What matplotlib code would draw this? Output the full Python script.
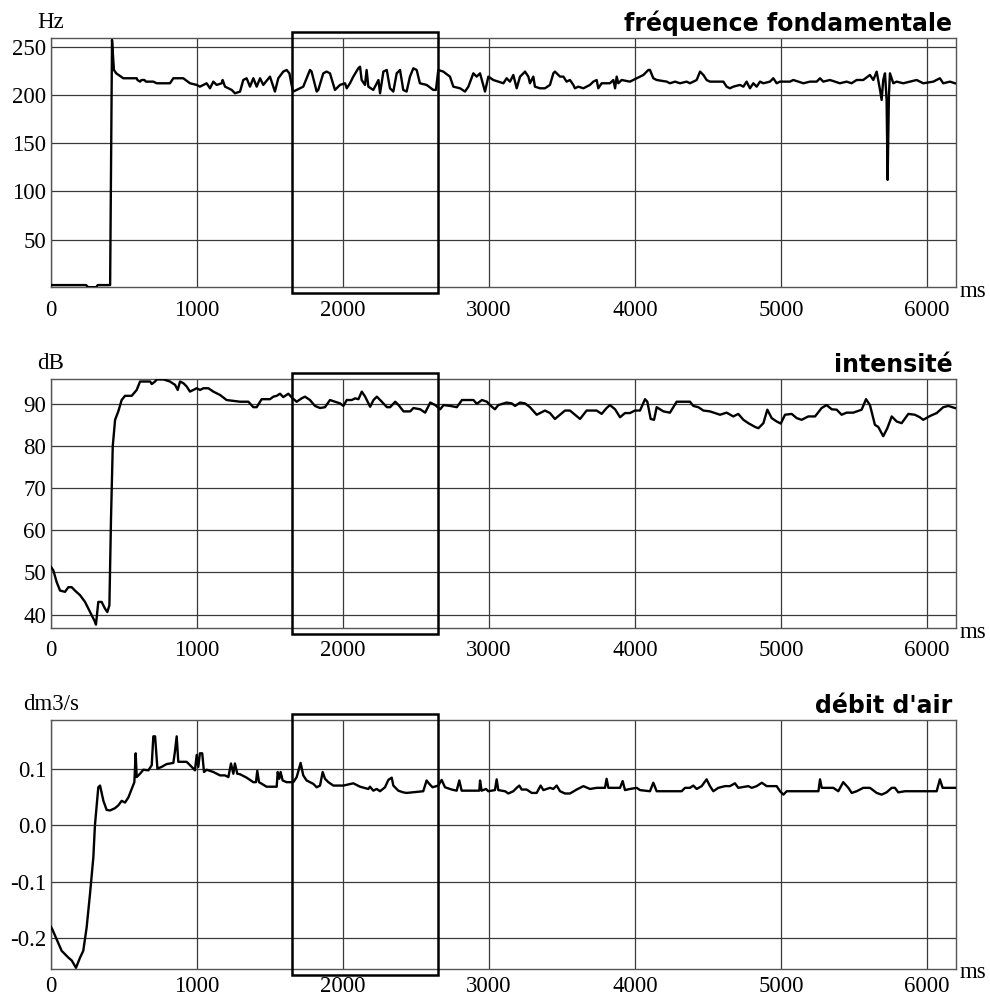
import matplotlib
matplotlib.use("Agg")
import matplotlib.pyplot as plt
import matplotlib.transforms as mtransforms
from matplotlib.patches import Rectangle

plt.rcParams['font.family'] = ['Liberation Serif', 'DejaVu Serif']

# fréquence fondamentale (Hz)
t_f0 = [0, 240, 255, 310, 320, 405, 418, 431, 447, 495, 587, 592, 610, 620, 640, 650, 701, 724, 815, 838,
        906, 952, 998, 1020, 1066, 1089, 1112, 1135, 1169, 1176, 1192, 1238, 1260, 1295, 1317, 1340, 1363,
        1386, 1409, 1432, 1454, 1500, 1523, 1534, 1557, 1591, 1614, 1633, 1655, 1660, 1706, 1728, 1774,
        1785, 1820, 1831, 1865, 1888, 1911, 1945, 1980, 2014, 2026, 2048, 2071, 2105, 2117, 2128, 2151,
        2162, 2174, 2208, 2243, 2254, 2277, 2300, 2322, 2345, 2368, 2391, 2413, 2436, 2459, 2482, 2505,
        2527, 2573, 2619, 2637, 2653, 2687, 2733, 2756, 2802, 2836, 2859, 2893, 2916, 2939, 2973, 2996,
        3030, 3065, 3099, 3121, 3144, 3167, 3190, 3213, 3236, 3247, 3270, 3281, 3304, 3315, 3350, 3384,
        3418, 3441, 3452, 3487, 3510, 3532, 3555, 3578, 3589, 3612, 3647, 3692, 3715, 3738, 3749, 3772,
        3829, 3852, 3864, 3875, 3886, 3909, 3966, 3989, 4012, 4058, 4092, 4103, 4126, 4149, 4218, 4240,
        4275, 4309, 4354, 4377, 4423, 4446, 4469, 4491, 4514, 4606, 4628, 4651, 4674, 4720, 4743, 4765,
        4788, 4811, 4834, 4857, 4880, 4925, 4948, 4971, 4994, 5062, 5085, 5154, 5199, 5245, 5268, 5290,
        5336, 5404, 5450, 5484, 5519, 5564, 5610, 5633, 5656, 5679, 5690, 5701, 5713, 5724, 5731, 5740,
        5747, 5770, 5793, 5838, 5884, 5930, 5975, 6044, 6089, 6112, 6158, 6192]
f0 = [3, 3, 0.8, 0.8, 3, 3, 257, 225.9, 222.4, 217.3, 217.3, 215.5, 213.8, 215.5, 215.5, 213.8, 213.8,
      212.1, 212.1, 217.3, 217.3, 212.1, 210.4, 208.6, 212.1, 206.9, 213.8, 210.4, 212.1, 215.5, 208.6,
      205.2, 201.7, 203.5, 215.5, 217.3, 208.6, 217.3, 208.6, 217.3, 210.4, 219.0, 208.6, 203.5, 217.3,
      224.2, 225.9, 222.4, 205.2, 203.5, 206.9, 208.6, 225.9, 224.2, 203.5, 205.2, 222.4, 224.2, 222.4,
      205.2, 210.4, 212.1, 206.9, 212.1, 219.0, 227.6, 229.3, 215.5, 210.4, 225.9, 208.6, 205.2, 215.5,
      201.7, 224.2, 225.9, 206.9, 203.5, 222.4, 225.9, 205.2, 203.5, 219.0, 227.6, 225.9, 212.1, 210.4,
      205.2, 205.2, 225.9, 224.2, 219.0, 208.6, 206.9, 203.5, 208.6, 222.4, 219.0, 222.4, 203.5, 219.0,
      215.5, 213.8, 212.1, 217.3, 213.8, 220.7, 206.9, 219.0, 222.4, 224.2, 219.0, 212.1, 219.0, 208.6,
      206.9, 206.9, 210.4, 222.4, 224.2, 219.0, 219.0, 213.8, 215.5, 210.4, 206.9, 208.6, 206.9, 210.4,
      213.8, 215.5, 206.9, 212.1, 212.1, 215.5, 206.9, 219.0, 212.1, 215.5, 213.8, 215.5, 217.3, 220.7,
      225.9, 225.9, 217.3, 215.5, 213.8, 212.1, 213.8, 212.1, 213.8, 212.1, 215.5, 224.2, 220.7, 215.5,
      213.8, 213.8, 208.6, 206.9, 208.6, 210.4, 208.6, 213.8, 206.9, 212.1, 208.6, 213.8, 212.1, 213.8,
      217.3, 212.1, 213.8, 213.8, 215.5, 212.1, 213.8, 213.8, 217.3, 213.8, 215.5, 212.1, 213.8, 212.1,
      215.5, 215.5, 220.7, 215.5, 224.2, 205.2, 194.8, 215.5, 222.4, 195.0, 112.0, 200.0, 222.4, 212.1,
      213.8, 212.1, 213.8, 215.5, 212.1, 213.8, 217.3, 212.1, 213.8, 212.1]

# intensité (dB)
t_db = [0, 16, 39, 62, 96, 119, 142, 164, 199, 233, 256, 279, 301, 308, 324, 347, 370, 386, 400, 411, 423,
        439, 461, 484, 507, 553, 587, 610, 679, 690, 713, 724, 770, 815, 850, 868, 884, 907, 930, 952, 975,
        998, 1021, 1044, 1078, 1112, 1158, 1203, 1249, 1295, 1352, 1386, 1409, 1443, 1500, 1523, 1546,
        1569, 1591, 1626, 1655, 1683, 1717, 1740, 1774, 1808, 1843, 1877, 1911, 1946, 1980, 2003, 2026,
        2060, 2083, 2106, 2129, 2152, 2186, 2209, 2232, 2255, 2301, 2323, 2358, 2381, 2415, 2460, 2483,
        2529, 2563, 2598, 2632, 2666, 2689, 2735, 2780, 2815, 2894, 2917, 2952, 2986, 3007, 3041, 3064,
        3121, 3156, 3179, 3213, 3247, 3281, 3327, 3350, 3384, 3418, 3452, 3487, 3521, 3555, 3589, 3624,
        3669, 3738, 3772, 3806, 3829, 3864, 3898, 3932, 3966, 4000, 4035, 4069, 4085, 4108, 4131, 4149,
        4195, 4240, 4286, 4377, 4400, 4434, 4469, 4514, 4583, 4628, 4674, 4708, 4743, 4777, 4823, 4846,
        4880, 4907, 4937, 4971, 4999, 5028, 5074, 5108, 5142, 5188, 5234, 5279, 5313, 5348, 5382, 5416,
        5450, 5496, 5553, 5583, 5610, 5644, 5667, 5701, 5729, 5759, 5793, 5827, 5873, 5918, 5952, 5975,
        6021, 6067, 6112, 6147, 6192]
db = [51.3, 50.5, 47.7, 45.7, 45.4, 46.5, 46.5, 45.7, 44.6, 43.0, 41.4, 39.8, 38.3, 37.6, 43.0, 43.0, 41.4,
      40.6, 42.2, 62.7, 80.0, 86.3, 88.3, 91.0, 92.0, 92.0, 93.4, 95.4, 95.4, 94.8, 95.4, 95.9, 95.9, 95.4,
      94.6, 93.4, 95.4, 95.0, 94.2, 93.0, 93.4, 93.8, 93.4, 93.8, 93.8, 93.0, 92.2, 91.0, 90.8, 90.6, 90.6,
      89.3, 89.3, 91.2, 91.2, 91.8, 92.0, 92.5, 91.7, 92.5, 91.4, 90.6, 91.4, 91.8, 91.0, 89.6, 89.1, 89.3,
      91.0, 90.6, 90.2, 89.6, 91.0, 91.0, 91.4, 91.2, 93.0, 91.8, 89.4, 91.0, 91.8, 91.0, 89.3, 89.3, 90.6,
      89.8, 88.3, 88.3, 89.1, 88.8, 88.0, 90.4, 89.8, 88.8, 89.8, 89.6, 89.3, 91.0, 91.0, 90.1, 91.0, 90.6,
      89.8, 88.8, 89.8, 90.4, 90.2, 89.6, 90.4, 90.2, 89.3, 87.5, 87.9, 88.5, 87.9, 86.5, 87.5, 88.5, 88.5,
      87.5, 86.5, 88.5, 88.5, 87.7, 89.1, 89.8, 88.8, 86.9, 87.9, 87.9, 88.5, 88.5, 91.2, 90.6, 86.5, 86.3,
      89.3, 88.3, 88.0, 90.6, 90.6, 89.6, 89.3, 88.5, 88.3, 87.5, 88.0, 87.1, 87.7, 86.3, 85.5, 84.6, 84.3,
      85.5, 88.7, 86.7, 85.9, 85.4, 87.5, 87.7, 86.7, 86.3, 87.1, 87.1, 89.1, 89.8, 88.8, 88.7, 87.5, 88.0,
      88.0, 88.7, 91.2, 89.8, 85.1, 84.6, 82.4, 84.3, 87.1, 85.9, 85.5, 87.7, 87.5, 86.9, 86.3, 87.2, 87.9,
      89.3, 89.6, 89.1]

# débit d'air (dm3/s)
t_air = [0, 9, 38, 73, 119, 142, 171, 199, 221, 244, 267, 290, 301, 324, 336, 359, 381, 404, 438, 461, 484,
         507, 530, 553, 571, 580, 587, 610, 633, 667, 690, 701, 713, 729, 758, 792, 838, 849, 861, 872, 929,
         964, 986, 998, 1009, 1020, 1036, 1048, 1066, 1112, 1158, 1192, 1215, 1233, 1249, 1260, 1276, 1295,
         1340, 1386, 1404, 1413, 1425, 1477, 1546, 1553, 1564, 1573, 1587, 1614, 1660, 1683, 1710, 1728,
         1751, 1797, 1820, 1843, 1861, 1877, 1900, 1934, 2003, 2071, 2117, 2174, 2185, 2208, 2231, 2254,
         2288, 2311, 2334, 2345, 2379, 2413, 2436, 2550, 2573, 2591, 2614, 2653, 2676, 2699, 2744, 2779,
         2797, 2813, 2893, 2934, 2939, 2950, 2980, 2996, 3041, 3053, 3064, 3110, 3133, 3167, 3190, 3208,
         3224, 3258, 3293, 3327, 3354, 3373, 3418, 3441, 3464, 3487, 3521, 3555, 3601, 3647, 3692, 3738,
         3795, 3806, 3818, 3898, 3916, 3932, 3966, 4012, 4035, 4103, 4126, 4149, 4320, 4343, 4377, 4400,
         4423, 4457, 4491, 4514, 4537, 4571, 4617, 4651, 4685, 4708, 4777, 4800, 4834, 4869, 4903, 4971,
         4994, 5017, 5040, 5257, 5268, 5279, 5359, 5393, 5427, 5462, 5485, 5519, 5564, 5610, 5656, 5690,
         5724, 5759, 5781, 5804, 5850, 6067, 6089, 6108, 6192]
air = [-0.180, -0.184, -0.201, -0.222, -0.234, -0.239, -0.252, -0.234, -0.222, -0.181, -0.122, -0.057,
       0.000, 0.067, 0.070, 0.043, 0.027, 0.026, 0.030, 0.035, 0.043, 0.040, 0.049, 0.064, 0.076, 0.127,
       0.085, 0.091, 0.098, 0.097, 0.106, 0.157, 0.157, 0.100, 0.103, 0.108, 0.110, 0.130, 0.157, 0.112,
       0.112, 0.103, 0.097, 0.124, 0.103, 0.127, 0.127, 0.094, 0.098, 0.094, 0.088, 0.088, 0.085, 0.109,
       0.091, 0.109, 0.091, 0.090, 0.084, 0.076, 0.076, 0.096, 0.076, 0.068, 0.068, 0.094, 0.082, 0.094,
       0.079, 0.076, 0.076, 0.085, 0.110, 0.088, 0.079, 0.073, 0.067, 0.070, 0.094, 0.082, 0.076, 0.070,
       0.070, 0.074, 0.068, 0.064, 0.068, 0.061, 0.064, 0.060, 0.067, 0.080, 0.084, 0.070, 0.061, 0.058,
       0.057, 0.060, 0.079, 0.073, 0.067, 0.070, 0.080, 0.067, 0.063, 0.061, 0.079, 0.061, 0.061, 0.061,
       0.079, 0.061, 0.064, 0.060, 0.062, 0.081, 0.062, 0.060, 0.056, 0.060, 0.066, 0.070, 0.063, 0.063,
       0.057, 0.057, 0.070, 0.062, 0.066, 0.064, 0.070, 0.060, 0.056, 0.056, 0.063, 0.069, 0.064, 0.066,
       0.066, 0.082, 0.066, 0.066, 0.078, 0.062, 0.064, 0.066, 0.062, 0.060, 0.075, 0.060, 0.060, 0.066,
       0.066, 0.070, 0.064, 0.069, 0.081, 0.069, 0.060, 0.066, 0.069, 0.069, 0.074, 0.066, 0.069, 0.066,
       0.069, 0.075, 0.069, 0.069, 0.060, 0.054, 0.060, 0.060, 0.081, 0.066, 0.066, 0.060, 0.076, 0.066,
       0.057, 0.060, 0.066, 0.066, 0.057, 0.054, 0.058, 0.066, 0.066, 0.058, 0.060, 0.060, 0.081, 0.066,
       0.066]

x_ticks = [0, 1000, 2000, 3000, 4000, 5000, 6000]
box_range = (1650, 2650)

panels = [
    (t_f0, f0, (0.7, 258.7), [50, 100, 150, 200, 250], ['50', '100', '150', '200', '250'],
     'Hz', 'fréquence fondamentale', 0.7127, 9),
    (t_db, db, (36.8, 96.0), [40, 50, 60, 70, 80, 90], ['40', '50', '60', '70', '80', '90'],
     'dB', 'intensité', 0.372, 8.5),
    (t_air, air, (-0.2536, 0.1864), [-0.2, -0.1, 0.0, 0.1], ['-0.2', '-0.1', '0.0', '0.1'],
     'dm3/s', "débit d'air", 0.0313, 5.5),
]

fig = plt.figure(figsize=(9.9, 10), dpi=100)

for t, y, ylim, yt, ytl, unit, title, bottom, xpad in panels:
    ax = fig.add_axes([51 / 990, bottom, 904.5 / 990, 0.249])
    ax.plot(t, y, color='black', lw=1.7, zorder=3)
    ax.set_xlim(0, 6196)
    ax.set_ylim(*ylim)
    ax.set_xticks(x_ticks)
    ax.set_xticklabels([str(v) for v in x_ticks])
    ax.set_yticks(yt)
    ax.set_yticklabels(ytl)
    ax.tick_params(length=0, labelsize=16.5, colors='black')
    ax.tick_params(axis='x', pad=xpad)
    ax.tick_params(axis='y', pad=3.5)
    ax.grid(True, color='#3a3a3a', lw=0.9)
    ax.set_axisbelow(True)
    for s in ax.spines.values():
        s.set_color('#555555')
        s.set_linewidth(1.0)

    trans = mtransforms.blended_transform_factory(ax.transData, ax.transAxes)
    rect = Rectangle((box_range[0], -0.024), box_range[1] - box_range[0], 1.048,
                     transform=trans, fill=False, edgecolor='black', lw=1.8,
                     clip_on=False, zorder=4)
    ax.add_patch(rect)

    ax.annotate(unit, xy=(0, 1), xycoords='axes fraction', xytext=(0, 5),
                textcoords='offset pixels', ha='center', va='bottom', fontsize=16.5)
    ax.annotate(title, xy=(1, 1), xycoords='axes fraction', xytext=(-3, 7),
                textcoords='offset pixels', ha='right', va='baseline', fontsize=17,
                fontweight='bold', family='DejaVu Sans')
    ax.annotate('ms', xy=(1, 0), xycoords='axes fraction', xytext=(4, -4),
                textcoords='offset pixels', ha='left', va='center', fontsize=16.5)

fig.savefig('out.png', dpi=100)
